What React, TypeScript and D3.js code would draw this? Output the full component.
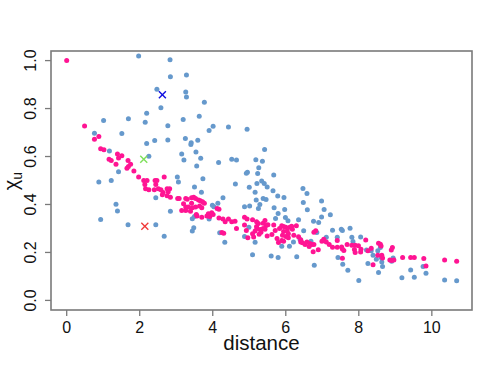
import React from "react";
import * as d3 from "d3";

// distance / chi_u pairs
const pinkPoints: [number, number][] = [
  [0, 1.0], [0.49, 0.727], [0.88, 0.683], [0.76, 0.672], [0.93, 0.632], [1.02, 0.628], [1.39, 0.611], [1.51, 0.603],
  [1.42, 0.594], [1.16, 0.589], [1.22, 0.583], [1.68, 0.583], [1.35, 0.568], [1.75, 0.568], [1.69, 0.558], [1.65, 0.551],
  [1.84, 0.54], [1.97, 0.515],
  [2.11, 0.5], [2.2, 0.5], [2.14, 0.483], [2.16, 0.466], [2.25, 0.461], [2.42, 0.5], [2.47, 0.5], [2.4, 0.461], [2.51, 0.466], [2.44, 0.483],
  [2.67, 0.515], [2.58, 0.461], [2.64, 0.45], [2.62, 0.441], [2.75, 0.466], [2.82, 0.466], [2.78, 0.453], [2.75, 0.436],
  [2.84, 0.43], [3.04, 0.425], [3.08, 0.425], [3.26, 0.425], [3.3, 0.422], [3.42, 0.428], [3.48, 0.43], [3.53, 0.425],
  [3.61, 0.419], [3.66, 0.416], [3.72, 0.411], [3.77, 0.405], [3.2, 0.403], [3.26, 0.389], [3.33, 0.389], [3.42, 0.405],
  [3.44, 0.386], [3.53, 0.389], [3.64, 0.394], [3.7, 0.386], [3.15, 0.375], [3.26, 0.375], [3.39, 0.372], [3.88, 0.361],
  [3.97, 0.366], [3.92, 0.35], [4.01, 0.358], [3.84, 0.352], [3.57, 0.352], [3.7, 0.347], [3.55, 0.358], [4.12, 0.383],
  [4.17, 0.38], [4.17, 0.344], [4.28, 0.339], [4.34, 0.328], [4.43, 0.339], [4.52, 0.328], [4.61, 0.33], [4.65, 0.3],
  [4.25, 0.283], [4.3, 0.28], [4.87, 0.347], [4.94, 0.339], [4.87, 0.314], [4.92, 0.291], [4.96, 0.261], [5.09, 0.336],
  [5.2, 0.308], [5.09, 0.278], [5.12, 0.264], [5.16, 0.289],
  [5.2, 0.328], [5.25, 0.321], [5.38, 0.322], [5.43, 0.333], [5.46, 0.312], [5.51, 0.316], [5.21, 0.3], [5.3, 0.296],
  [5.38, 0.3], [5.32, 0.284], [5.27, 0.276], [5.43, 0.297], [5.49, 0.269], [5.62, 0.275], [5.67, 0.314], [5.71, 0.291],
  [5.83, 0.3], [5.89, 0.311], [5.94, 0.308], [6.0, 0.305], [5.94, 0.287], [6.04, 0.289], [6.11, 0.305], [6.16, 0.309],
  [6.29, 0.311], [6.18, 0.297], [6.07, 0.278], [6.0, 0.266], [5.91, 0.272], [5.76, 0.258], [5.8, 0.241], [5.89, 0.25],
  [5.94, 0.247], [6.07, 0.261], [6.22, 0.272], [6.35, 0.265], [6.41, 0.253], [6.41, 0.244], [6.46, 0.24], [6.53, 0.233],
  [6.58, 0.244], [6.66, 0.237], [6.71, 0.233], [6.77, 0.233], [6.64, 0.225], [6.75, 0.203], [6.89, 0.211], [6.82, 0.29],
  [6.77, 0.284], [6.99, 0.247], [7.04, 0.255], [7.11, 0.244], [7.19, 0.233], [7.28, 0.222], [7.41, 0.25], [7.41, 0.222],
  [7.53, 0.223], [7.55, 0.214], [7.59, 0.208], [7.55, 0.176], [7.68, 0.233], [7.81, 0.23], [7.9, 0.23], [7.99, 0.228],
  [7.88, 0.212], [7.9, 0.2],
  [8.06, 0.213], [8.05, 0.202], [8.19, 0.252], [8.25, 0.207], [8.34, 0.218], [8.39, 0.149], [8.54, 0.238], [8.59, 0.234],
  [8.61, 0.227], [8.52, 0.188], [8.63, 0.188], [8.65, 0.177], [8.89, 0.21], [8.92, 0.221], [8.85, 0.168], [8.9, 0.166],
  [8.96, 0.168], [9.2, 0.179], [9.42, 0.179], [9.52, 0.179], [9.78, 0.175], [9.84, 0.143], [10.35, 0.168], [10.68, 0.163],
];

const bluePoints: [number, number][] = [
  [1.97, 1.019], [2.83, 1.004], [2.84, 0.933], [3.28, 0.94], [2.47, 0.88], [3.26, 0.869], [3.28, 0.848], [3.77, 0.826],
  [2.58, 0.803], [2.19, 0.78], [3.63, 0.768], [1.01, 0.75], [1.69, 0.758], [2.15, 0.743], [3.19, 0.754], [2.77, 0.728],
  [4.01, 0.726], [3.9, 0.708], [4.43, 0.723], [4.94, 0.714], [0.76, 0.697], [1.51, 0.696], [2.41, 0.667], [2.77, 0.669],
  [2.19, 0.654], [3.25, 0.675], [3.41, 0.657], [3.4, 0.65], [3.59, 0.668], [1.17, 0.623], [3.15, 0.61], [3.54, 0.619],
  [2.25, 0.601], [3.21, 0.585], [3.67, 0.593], [4.16, 0.575], [4.52, 0.589], [4.65, 0.585], [3.56, 0.56], [1.42, 0.536],
  [4.95, 0.534], [4.92, 0.53], [3.03, 0.515], [3.73, 0.507], [3.06, 0.494], [0.88, 0.494], [1.22, 0.5], [4.62, 0.485],
  [3.5, 0.473], [5.0, 0.472], [5.42, 0.629], [5.18, 0.587], [5.36, 0.58], [5.26, 0.553], [5.23, 0.529], [5.67, 0.523],
  [5.21, 0.487], [5.34, 0.498], [5.41, 0.487], [5.49, 0.473], [6.47, 0.467], [5.16, 0.451], [5.65, 0.457], [5.78, 0.435],
  [5.95, 0.429], [5.19, 0.419], [5.38, 0.425], [5.46, 0.421], [5.29, 0.4], [5.25, 0.383], [5.68, 0.386], [5.97, 0.379],
  [6.58, 0.446], [6.48, 0.408], [6.98, 0.415], [7.05, 0.379], [6.59, 0.378],
  [5.79, 0.362], [7.22, 0.357], [5.72, 0.342], [5.99, 0.346], [6.06, 0.332], [6.35, 0.336], [6.76, 0.33], [6.9, 0.325],
  [6.98, 0.348], [6.49, 0.29], [7.28, 0.293], [7.52, 0.297], [7.55, 0.292], [7.76, 0.301], [6.85, 0.283], [5.16, 0.243],
  [5.89, 0.226], [6.1, 0.226], [6.21, 0.244], [6.39, 0.254], [6.69, 0.247], [7.11, 0.263], [7.41, 0.263], [7.81, 0.263],
  [7.84, 0.246], [5.6, 0.185], [5.79, 0.179], [6.3, 0.182], [6.78, 0.147], [7.43, 0.179], [7.56, 0.151], [7.7, 0.126],
  [8.0, 0.083],
  [1.35, 0.401], [1.39, 0.373], [0.93, 0.337], [1.68, 0.315],
  [3.69, 0.451], [4.28, 0.428], [2.44, 0.428], [2.84, 0.372], [4.14, 0.405], [3.99, 0.397], [4.03, 0.391], [3.9, 0.339],
  [3.44, 0.341], [3.5, 0.35], [3.48, 0.303], [3.44, 0.289], [2.44, 0.316], [2.67, 0.268], [4.19, 0.282], [4.33, 0.242],
  [4.87, 0.391], [5.01, 0.394], [4.87, 0.266], [5.09, 0.19], [4.99, 0.305],
  [8.05, 0.264], [8.21, 0.21], [8.34, 0.207], [8.52, 0.207], [8.59, 0.221], [8.39, 0.188], [8.48, 0.172], [8.61, 0.179],
  [8.63, 0.16], [8.65, 0.141], [8.25, 0.154], [8.54, 0.116], [8.9, 0.163], [8.94, 0.177], [9.18, 0.095], [9.42, 0.127],
  [9.52, 0.097], [9.76, 0.141], [9.84, 0.113], [10.35, 0.085], [10.68, 0.082],
];

const crossPoints: { x: number; y: number; color: string }[] = [
  { x: 2.62, y: 0.858, color: "#1010e0" },
  { x: 2.11, y: 0.589, color: "#7ee05a" },
  { x: 2.14, y: 0.309, color: "#f03a3a" },
];

const xTicks = [0, 2, 4, 6, 8, 10];
const yTicks = [0.0, 0.2, 0.4, 0.6, 0.8, 1.0];
const yTickLabels = ["0.0", "0.2", "0.4", "0.6", "0.8", "1.0"];

const W = 498;
const H = 374;
const left = 51, right = 472, top = 51, bottom = 310;

export default function App() {
  const x = d3.scaleLinear().domain([-0.43, 11.1]).range([left, right]);
  const y = d3.scaleLinear().domain([-0.04, 1.04]).range([bottom, top]);
  const axisColor = "#7a7a7a";
  const font = "'Liberation Sans', Arial, Helvetica, sans-serif";
  const cs = 3.5;
  return (
    <svg width={W} height={H} style={{ position: "absolute", left: 0, top: 0, background: "#fff" }} fontFamily={font}>
      <rect x={left} y={top} width={right - left} height={bottom - top} fill="none" stroke={axisColor} strokeWidth={1.6} />
      {xTicks.map((t) => (
        <g key={"x" + t}>
          <line x1={x(t)} x2={x(t)} y1={bottom} y2={bottom + 6} stroke={axisColor} strokeWidth={1.3} />
          <text x={x(t)} y={333} textAnchor="middle" fontSize={16} fill="#111">{t}</text>
        </g>
      ))}
      {yTicks.map((t, i) => (
        <g key={"y" + t}>
          <line x1={left - 6} x2={left} y1={y(t)} y2={y(t)} stroke={axisColor} strokeWidth={1.3} />
          <text transform={`translate(36,${y(t)}) rotate(-90)`} textAnchor="middle" fontSize={16} fill="#111">{yTickLabels[i]}</text>
        </g>
      ))}
      <text x={(left + right) / 2} y={350} textAnchor="middle" fontSize={20.5} fill="#111">distance</text>
      <text transform={`translate(18,181) rotate(-90)`} textAnchor="middle" fontSize={20} fill="#111">
        χ<tspan fontSize={14} dy={4}>u</tspan>
      </text>
      {bluePoints.map((p, i) => (
        <circle key={"b" + i} cx={x(p[0])} cy={y(p[1])} r={2.5} fill="#6699cc" />
      ))}
      {pinkPoints.map((p, i) => (
        <circle key={"p" + i} cx={x(p[0])} cy={y(p[1])} r={2.5} fill="#ff1493" />
      ))}
      {crossPoints.map((c, i) => (
        <g key={"c" + i} stroke={c.color} strokeWidth={1.4}>
          <line x1={x(c.x) - cs} x2={x(c.x) + cs} y1={y(c.y) - cs} y2={y(c.y) + cs} />
          <line x1={x(c.x) - cs} x2={x(c.x) + cs} y1={y(c.y) + cs} y2={y(c.y) - cs} />
        </g>
      ))}
    </svg>
  );
}
